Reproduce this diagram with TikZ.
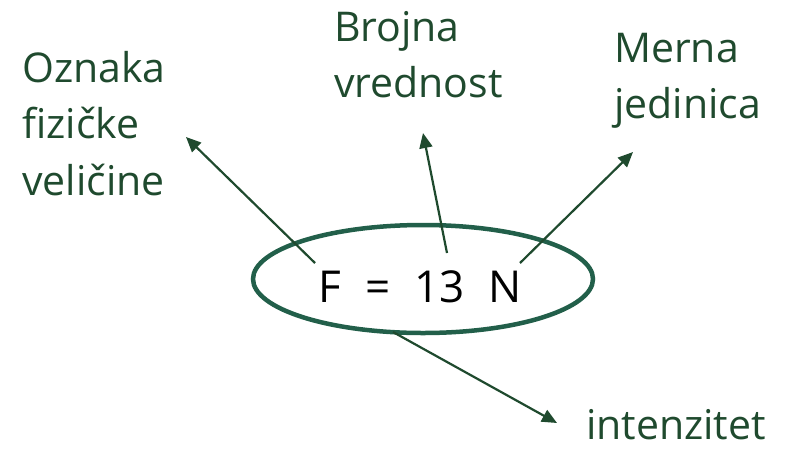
\documentclass[tikz,border=0pt]{standalone}
\usepackage{fontspec}
\setmainfont{Open Sans}
\usetikzlibrary{arrows.meta,shapes.geometric}
\definecolor{txtgreen}{HTML}{1F4A2E}
\definecolor{ringgreen}{HTML}{225F4A}
\tikzset{
  lbl/.style={anchor=north west,inner sep=0pt,align=left,text=txtgreen,
    font=\fontsize{41}{56.5}\selectfont},
  arr/.style={draw=txtgreen,line width=2.2pt,-{Triangle[length=15pt,width=13pt]}},
  ring/.style={draw=ringgreen,line width=4.5pt,ellipse,minimum width=340pt,minimum height=108pt,inner sep=0pt}
}
\begin{document}
\begin{tikzpicture}[x=1pt,y=-1pt]
\useasboundingbox (0,0) rectangle (789,448);
\node[ring] (ring) at (423,279) {};
\node[inner sep=0pt,anchor=base,font=\fontsize{44}{54}\selectfont] (eq) at (420,302) {F\hspace{24pt}=\hspace{24pt}13\hspace{24pt}N};
\node[lbl] (oznaka) at (22,51) {Oznaka\\fizičke\\veličine};
\node[lbl] (brojna) at (334,11) {Brojna\\vrednost};
\node[lbl] (merna) at (614,33) {Merna\\jedinica};
\node[lbl] (inten) at (586,409) {intenzitet};
\coordinate (t1) at (186,137);
\coordinate (t2) at (423,133);
\coordinate (t3) at (633,152);
\coordinate (t4) at (557,423);
\coordinate (s1) at (315,263);
\coordinate (s2) at (447,253);
\coordinate (s3) at (520,263);
\coordinate (s4) at (393,332);
\draw[arr] (s1) -- (t1);
\draw[arr] (s2) -- (t2);
\draw[arr] (s3) -- (t3);
\draw[arr] (s4) -- (t4);
\end{tikzpicture}
\end{document}
